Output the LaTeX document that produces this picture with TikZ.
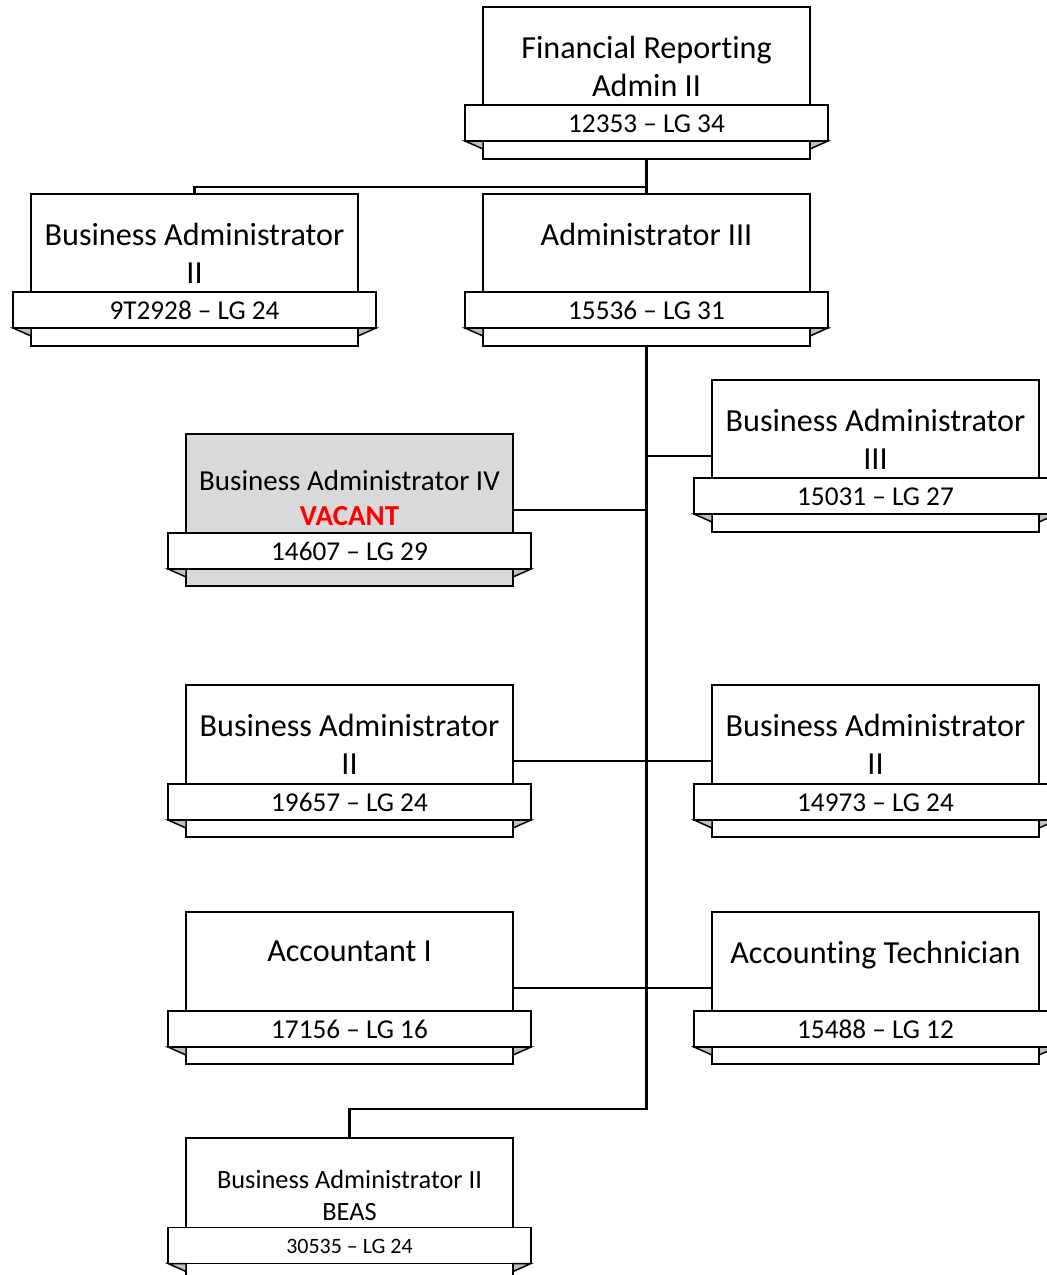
\documentclass[tikz,border=0pt]{standalone}
\usepackage{fontspec}
\setmainfont[Ligatures=NoCommon]{Carlito}
\usetikzlibrary{calc}
\tikzset{
	boxline/.style={line width=0.85pt, draw=black},
	link/.style={line width=1.3pt, draw=black},
	titletext/.style={anchor=north, align=center, inner sep=0pt, font=\fontsize{18.3}{21.5}\selectfont},
	ribbontext/.style={inner sep=0pt, font=\fontsize{15.5}{18}\selectfont},
	foldfill/.style={fill=black!25},
}
% box with ribbon: name, left, top, fill, title options, title, ribbon top, ribbon options, ribbon text
\newcommand{\posbox}[9]{%
	\draw[boxline, fill=#4] (#2,#3) rectangle ++(327,152);
	\node[inner sep=0pt, minimum width=6.54cm, minimum height=3.04cm] (#1) at (#2+163.5,#3+76) {};
	\node[titletext, #5] at (#2+163.5,#3+29) {#6};
	\draw[boxline, fill=white] (#2-18,#3+#7) rectangle ++(363,36);
	\draw[boxline, foldfill] (#2-18,#3+#7+36) -- (#2,#3+#7+36) -- (#2,#3+#7+44) -- cycle;
	\draw[boxline, foldfill] (#2+345,#3+#7+36) -- (#2+327,#3+#7+36) -- (#2+327,#3+#7+44) -- cycle;
	\node[ribbontext, #8] at (#2+163.5,#3+#7+18.5) {#9};
}

\begin{document}
\begin{tikzpicture}[x=0.02cm, y=-0.02cm]
		%%%%% START %%%%%
		
		\useasboundingbox (0,0) rectangle (1047,1275);
		\clip (0,0) rectangle (1047,1275);
		
		\posbox{fra}{483}{7}{white}{}{Financial Reporting\\Admin II}{98}{}{12353 – LG 34}
		\posbox{baiia}{31}{194}{white}{}{Business Administrator\\II}{98}{}{9T2928 – LG 24}
		\posbox{admin}{483}{194}{white}{}{Administrator III}{98}{}{15536 – LG 31}
		
		\posbox{bafour}{186}{434}{black!15}{shift={(0,7)}, font=\fontsize{16.5}{20}\selectfont}{Business Administrator IV\\\textcolor{red}{\textbf{VACANT}}}{99}{}{14607 – LG 29}
		\posbox{bathree}{712}{380}{white}{}{Business Administrator\\III}{98}{}{15031 – LG 27}
		
		\posbox{baiib}{186}{685}{white}{}{Business Administrator\\II}{99}{}{19657 – LG 24}
		\posbox{baiic}{712}{685}{white}{}{Business Administrator\\II}{99}{}{14973 – LG 24}
		
		\posbox{acct}{186}{912}{white}{}{Accountant I}{99}{}{17156 – LG 16}
		\posbox{tech}{712}{912}{white}{}{Accounting Technician}{99}{}{15488 – LG 12}
		
		\posbox{beas}{186}{1138}{white}{shift={(0,3)}, font=\fontsize{15}{18}\selectfont}{Business Administrator II\\BEAS}{89.5}{font=\fontsize{12.5}{15}\selectfont}{30535 – LG 24}
		
		\draw[link] (fra.south) -- ++(0,28) -| (baiia.north);
		\draw[link] (fra.south) -- (admin.north);
		
		\coordinate (trunkend) at (646.5,1109);
		\draw[link] (admin.south) -- (trunkend) -| (beas.north);
		\draw[link] (bathree.west) -- (admin.south |- bathree.west);
		\draw[link] (bafour.east) -- (admin.south |- bafour.east);
		\draw[link] (baiib.east) -- (baiic.west);
		\draw[link] (acct.east) -- (tech.west);
		
		%%%%% END %%%%%
	\end{tikzpicture}
\end{document}
